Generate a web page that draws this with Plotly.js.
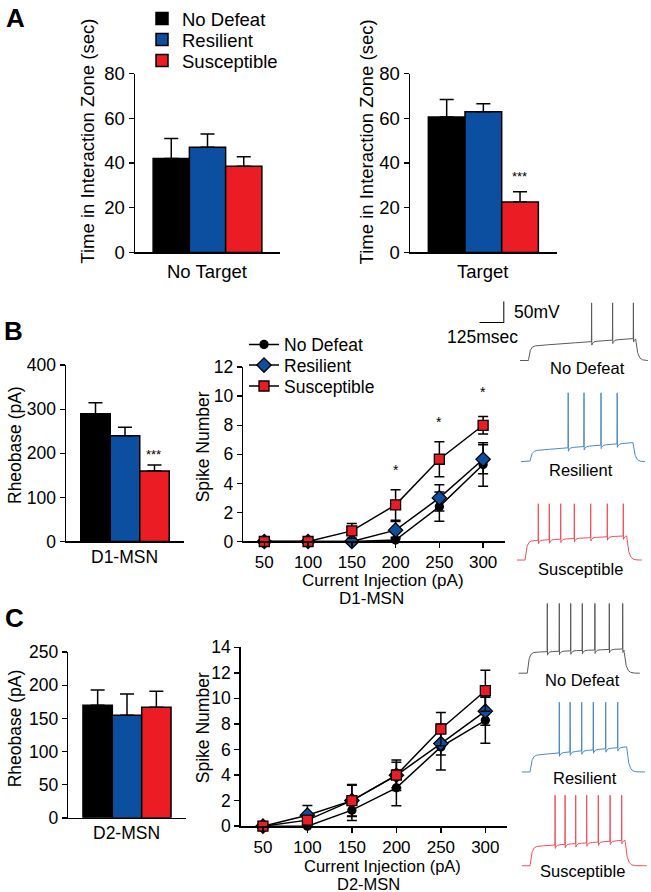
<!DOCTYPE html>
<html><head><meta charset="utf-8">
<script src="https://cdn.plot.ly/plotly-3.0.1.min.js"></script>
<style>html,body{margin:0;padding:0;background:#fff;}#chart{width:651px;height:892px;}</style>
</head><body><div id="chart"></div>
<script>
// ================= DATA =================
const groups = ['No Defeat', 'Resilient', 'Susceptible'];
// Panel A: social interaction (sec)
const noTargetCat = ['No Target'];
const targetCat = ['Target'];
const noTargetMean = [42, 47, 38.5];
const noTargetSem = [9, 6, 4.3];
const targetMean = [60.6, 62.9, 22.5];
const targetSem = [7.8, 3.6, 4.6];
// Rheobase (pA)
const d1Cat = ['D1-MSN'];
const d2Cat = ['D2-MSN'];
const d1RheoMean = [290, 240, 160];
const d1RheoSem = [25, 19, 13.5];
const d2RheoMean = [170, 155, 167];
const d2RheoSem = [23, 32, 24];
// Spike number vs current injection
const currents = [50, 100, 150, 200, 250, 300];
const d1NoDefeat = [0, 0, 0, 0.1, 2.4, 5.3];
const d1NoDefeatSem = [null, null, null, 0.2, 1.0, 1.5];
const d1Resilient = [0, 0, 0, 0.78, 3.0, 5.66];
const d1ResilientSem = [null, null, null, 0.6, 0.9, 1.0];
const d1Susceptible = [0, 0, 0.73, 2.52, 5.66, 8.0];
const d1SusceptibleSem = [null, null, 0.5, 1.05, 1.2, 0.6];
const d2NoDefeat = [0, 0, 1.25, 3.0, 6.2, 8.28];
const d2NoDefeatSem = [null, null, 0.8, 1.4, 1.8, 1.8];
const d2Resilient = [0, 0.86, 2.0, 3.98, 6.46, 9.0];
const d2ResilientSem = [null, 0.75, 1.25, 1.2, 0.9, 1.1];
const d2Susceptible = [0, 0.47, 2.0, 4.0, 7.6, 10.6];
const d2SusceptibleSem = [null, 0.3, 1.2, 1.0, 1.3, 1.6];
const d1SigCurrents = [200, 250, 300];
const d1SigLevel = [4.9, 8.2, 10.3];
// Representative traces (time in ms, voltage in mV above rest)
const restMv = -80;
const scaleBarMs = 125, scaleBarMv = 50;
const d1Spikes = [[358, 463, 567], [236, 315, 400, 481], [108, 163, 220, 288, 370, 453, 533]];
const d1StepOn = [42, 45, 42];
const d1StepOff = [578, 560, 550];
const d1TraceEnd = [650, 620, 625];
const d1PlateauStart = [33, 25, 44];
const d1PlateauEnd = [51, 44, 56];
const d1SpikePeak = [133, 159, 130];
const d2Spikes = [[145, 205, 262, 320, 383, 455, 522], [188, 242, 300, 358, 420, 480], [167, 217, 270, 325, 383, 442, 500]];
const d2StepOn = [45, 42, 42];
const d2StepOff = [528, 525, 517];
const d2TraceEnd = [608, 617, 625];
const d2PlateauStart = [48, 38, 44];
const d2PlateauEnd = [56, 58, 59];
const d2SpikePeak = [161, 161, 163];

// ================= STYLE / LAYOUT =================
const W = 651, H = 892;
const FONT = 'Liberation Sans, Arial, Helvetica, sans-serif';
const barColors = ['#000000', '#0c4fa1', '#ec1c24'];
const traceColors = ['#5a5a5a', '#4a88c9', '#f0505c'];
const markerSymbols = ['circle', 'diamond', 'square'];
const markerSizes = [8, 11, 10];
const xd = (a, b) => [a / W, b / W];
const yd = (top, bottom) => [1 - bottom / H, 1 - top / H];
const PX_PER_MS = 0.2, PX_PER_MV = 0.434;

function yAx(n, domain, range, dtick, fs) {
  return {anchor: 'x' + n, domain, range, dtick, showline: true, linecolor: '#000', linewidth: 1.5, ticks: 'outside',
    ticklen: 5, tickwidth: 1.5, tickcolor: '#000', showgrid: false, zeroline: false,
    tickfont: {size: fs, color: '#000', family: FONT}, fixedrange: true};
}
function xCatAx(n, domain) {
  return {anchor: 'y' + n, domain, showline: true, linecolor: '#000', linewidth: 1.5, ticks: '', showticklabels: false,
    showgrid: false, zeroline: false, fixedrange: true};
}
function xNumAx(n, domain, range) {
  return {anchor: 'y' + n, domain, range, tickvals: currents, showline: true, linecolor: '#000', linewidth: 1.5,
    ticks: 'outside', ticklen: 5, tickwidth: 1.5, tickcolor: '#000', showgrid: false, zeroline: false,
    tickfont: {size: 17, color: '#000', family: FONT}, fixedrange: true};
}
const hidden = (anchor, domain, range) => ({anchor, domain, range, visible: false, fixedrange: true});

const traces = [];
function addBars(cat, means, sems, xa, ya, withLegend) {
  groups.forEach((g, i) => {
    traces.push({type: 'bar', x: cat, y: [means[i]], name: g, xaxis: xa, yaxis: ya,
      marker: {color: barColors[i], line: {color: '#000', width: 1.5}},
      error_y: {type: 'data', symmetric: false, array: [sems[i]], arrayminus: [0], color: '#000', thickness: 1.5, width: 7},
      showlegend: withLegend, legend: i === 0 ? 'legend' : 'legend' + (i + 1), hoverinfo: 'skip'});
  });
}
addBars(noTargetCat, noTargetMean, noTargetSem, 'x', 'y', true);
addBars(targetCat, targetMean, targetSem, 'x2', 'y2', false);
addBars(d1Cat, d1RheoMean, d1RheoSem, 'x3', 'y3', false);
addBars(d2Cat, d2RheoMean, d2RheoSem, 'x5', 'y5', false);

function addLines(series, sems, xa, ya, withLegend) {
  groups.forEach((g, i) => {
    traces.push({type: 'scatter', mode: 'lines+markers', x: currents, y: series[i], name: g,
      xaxis: xa, yaxis: ya, cliponaxis: false,
      line: {color: '#000', width: 1.5},
      marker: {symbol: markerSymbols[i], size: markerSizes[i], color: barColors[i], line: {color: '#000', width: 1.3}},
      error_y: {type: 'data', array: sems[i], color: '#000', thickness: 1.5, width: 5},
      showlegend: withLegend, legend: 'legend' + (i + 4), hoverinfo: 'skip'});
  });
}
addLines([d1NoDefeat, d1Resilient, d1Susceptible], [d1NoDefeatSem, d1ResilientSem, d1SusceptibleSem], 'x4', 'y4', true);
addLines([d2NoDefeat, d2Resilient, d2Susceptible], [d2NoDefeatSem, d2ResilientSem, d2SusceptibleSem], 'x6', 'y6', false);

// representative voltage traces
function waveform(spikes, on, off, end, p1, p2, peak) {
  const t = [], v = [];
  const ahp = 8;
  const plate = ms => restMv + (p1 + (p2 - p1) * (ms - on) / (off - on)) * (1 - Math.exp(-(ms - on) / 8));
  for (let i = 0; i <= end * 2; i++) {
    const ms = i / 2;
    let val;
    if (ms < on) val = restMv;
    else if (ms <= off) {
      const base = plate(ms);
      val = base;
      const pk = restMv + peak;
      for (const s of spikes) {
        const d = ms - s;
        if (d === -0.5) val = base + 0.4 * (pk - base);
        else if (d === 0) val = pk;
        else if (d === 0.5) val = base + 0.35 * (pk - base);
        else if (d >= 1 && d < 30) val = Math.min(val, base - ahp * Math.exp(-(d - 1) / 5));
      }
    } else {
      val = restMv + (plate(off) - restMv) * Math.exp(-(ms - off) / 10);
    }
    t.push(ms); v.push(val);
  }
  return {t, v};
}
const layoutAxes = {};
const traceBoxes = [ // [left px, baseline px]
  [520, 359.3], [521, 460.7], [516.7, 559.3],
  [518.3, 672.7], [521.7, 771.7], [521.7, 865.7]
];
const allSpikes = d1Spikes.concat(d2Spikes);
const allOn = d1StepOn.concat(d2StepOn), allOff = d1StepOff.concat(d2StepOff), allEnd = d1TraceEnd.concat(d2TraceEnd);
const allP1 = d1PlateauStart.concat(d2PlateauStart), allP2 = d1PlateauEnd.concat(d2PlateauEnd), allPk = d1SpikePeak.concat(d2SpikePeak);
const msRange = [0, 640], mvRange = [-100, 100];
allSpikes.forEach((sp, k) => {
  const n = 8 + k;
  const wf = waveform(sp, allOn[k], allOff[k], allEnd[k], allP1[k], allP2[k], allPk[k]);
  traces.push({type: 'scatter', mode: 'lines', x: wf.t, y: wf.v, xaxis: 'x' + n, yaxis: 'y' + n,
    line: {color: traceColors[k % 3], width: 1}, showlegend: false, hoverinfo: 'skip'});
  const [left, base] = traceBoxes[k];
  layoutAxes['xaxis' + n] = hidden('y' + n, xd(left, left + (msRange[1] - msRange[0]) * PX_PER_MS), msRange);
  layoutAxes['yaxis' + n] = hidden('x' + n, yd(base - (mvRange[1] - restMv) * PX_PER_MV, base + (restMv - mvRange[0]) * PX_PER_MV), mvRange);
});
// scale bar
traces.push({type: 'scatter', mode: 'lines', x: [0, scaleBarMs, scaleBarMs], y: [0, 0, scaleBarMv],
  xaxis: 'x7', yaxis: 'y7', cliponaxis: false, line: {color: '#000', width: 2}, showlegend: false, hoverinfo: 'skip'});
layoutAxes.xaxis7 = hidden('y7', xd(479.3, 479.3 + scaleBarMs * PX_PER_MS), [0, scaleBarMs]);
layoutAxes.yaxis7 = hidden('x7', yd(321.7 - scaleBarMv * PX_PER_MV, 321.7), [0, scaleBarMv]);

// annotations
const anns = [];
function ann(text, x, y, size, extra) {
  anns.push(Object.assign({text, x: x / W, y: 1 - y / H, xref: 'paper', yref: 'paper', showarrow: false,
    xanchor: 'center', yanchor: 'middle', font: {size, color: '#000', family: FONT}}, extra || {}));
}
ann('<b>A</b>', 15, 16, 26);
ann('<b>B</b>', 13.5, 330, 26);
ann('<b>C</b>', 14, 617.5, 26);
ann('Time in Interaction Zone (sec)', 88, 140, 18.5, {textangle: -90});
ann('Time in Interaction Zone (sec)', 366.7, 140, 18.5, {textangle: -90});
ann(noTargetCat[0], 207, 270, 18.5);
ann(targetCat[0], 482.7, 270, 18.5);
ann('***', 519.3, 175, 13);
ann('Rheobase (pA)', 15, 444, 17.5, {textangle: -90});
ann(d1Cat[0], 124.7, 556.7, 17.5);
ann('***', 153.7, 454, 13);
ann('Spike Number', 203.3, 446, 17.5, {textangle: -90});
ann('Current Injection (pA)', 383, 580, 17);
ann(d1Cat[0], 371, 597.5, 17);
ann('50mV', 511.7, 310.7, 17.5, {xanchor: 'left'});
ann('125msec', 482, 336, 17.5);
ann(groups[0], 587, 366.7, 16.5);
ann(groups[1], 581.3, 469.3, 16.5);
ann(groups[2], 580.8, 568.3, 16.5);
ann('Rheobase (pA)', 15, 728, 17.5, {textangle: -90});
ann(d2Cat[0], 126.7, 833.3, 17.5);
ann('Spike Number', 203.3, 727.5, 17.5, {textangle: -90});
ann('Current Injection (pA)', 382, 866, 16.5);
ann(d2Cat[0], 368, 883.5, 16.5);
ann(groups[0], 582.7, 680, 16.5);
ann(groups[1], 585, 777.7, 16.5);
ann(groups[2], 582.5, 871, 16.5);
d1SigCurrents.forEach((c, i) => anns.push({text: '*', x: c, y: d1SigLevel[i], xref: 'x4', yref: 'y4',
  showarrow: false, font: {size: 14, color: '#000', family: FONT}}));

function leg(xPx, yPx, size) {
  return {x: xPx / W, y: 1 - yPx / H, xanchor: 'left', yanchor: 'middle', bgcolor: 'rgba(0,0,0,0)',
    borderwidth: 0, font: {size, color: '#000', family: FONT}, itemclick: false, itemdoubleclick: false};
}

const layout = Object.assign({
  width: W, height: H, margin: {l: 0, r: 0, t: 0, b: 0},
  paper_bgcolor: '#fff', plot_bgcolor: 'rgba(0,0,0,0)',
  font: {family: FONT, color: '#000'},
  barmode: 'group', bargap: 0.25, bargroupgap: 0,
  showlegend: true,
  xaxis: xCatAx('', xd(135, 280)), yaxis: yAx('', yd(71.7, 251), [0, 80], 20, 18.5),
  xaxis2: xCatAx(2, xd(410, 556.7)), yaxis2: yAx(2, yd(71.7, 251), [0, 80], 20, 18.5),
  xaxis3: xCatAx(3, xd(66, 184)), yaxis3: yAx(3, yd(364, 540.7), [0, 400], 100, 17.5),
  xaxis4: xNumAx(4, xd(243.3, 505), [26, 325]), yaxis4: yAx(4, yd(366, 540.7), [0, 12], 2, 17.5),
  xaxis5: xCatAx(5, xd(68.3, 185.7)), yaxis5: yAx(5, yd(651.7, 817.7), [0, 250], 50, 17.5),
  xaxis6: xNumAx(6, xd(240.7, 506.7), [25, 324]), yaxis6: yAx(6, yd(646.7, 826), [0, 14], 2, 17.5),
  legend: leg(142, 17, 18.5), legend2: leg(142, 38, 18.5), legend3: leg(142, 59, 18.5),
  legend4: leg(244, 343.3, 17.5), legend5: leg(244, 364, 17.5), legend6: leg(244, 385, 17.5),
  annotations: anns
}, layoutAxes);

Plotly.newPlot('chart', traces, layout, {staticPlot: true, displayModeBar: false});
</script>
</body></html>
